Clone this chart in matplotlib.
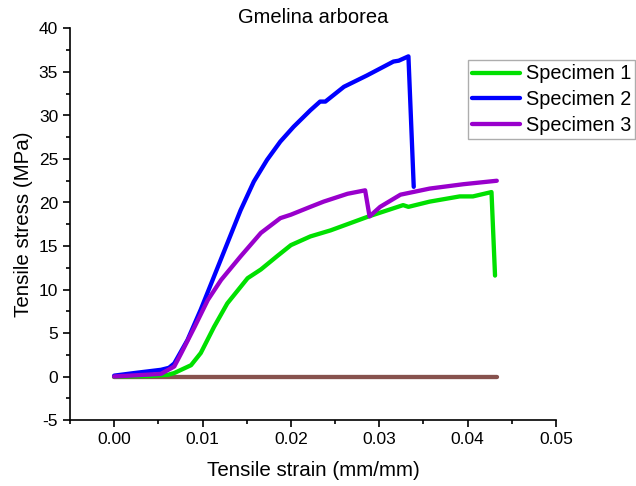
import matplotlib.pyplot as plt
from matplotlib.ticker import MultipleLocator

plt.rcParams['font.family'] = ['Liberation Sans', 'DejaVu Sans']
plt.rcParams['axes.unicode_minus'] = False

# strain (mm/mm) and stress (MPa) for each specimen
strain_1 = [0.0, 0.0040, 0.0061, 0.0068, 0.0087, 0.0098, 0.0113, 0.0128, 0.0151,
            0.0166, 0.0184, 0.0200, 0.0222, 0.0245, 0.0288, 0.0327, 0.0333,
            0.0357, 0.0391, 0.0406, 0.0427, 0.0431]
stress_1 = [0.0, 0.05, 0.2, 0.4, 1.3, 2.7, 5.7, 8.4, 11.3,
            12.3, 13.8, 15.1, 16.1, 16.8, 18.4, 19.7, 19.5,
            20.1, 20.7, 20.7, 21.2, 11.6]

strain_2 = [0.0, 0.0023, 0.0053, 0.0062, 0.0068, 0.0083, 0.0098, 0.0113, 0.0128,
            0.0143, 0.0158, 0.0173, 0.0188, 0.0203, 0.0222, 0.0233, 0.0239,
            0.0260, 0.0286, 0.0316, 0.0322, 0.0333, 0.0339]
stress_2 = [0.1, 0.4, 0.77, 1.0, 1.5, 4.2, 7.7, 11.5, 15.3,
            19.1, 22.4, 24.9, 27.0, 28.7, 30.6, 31.6, 31.6,
            33.3, 34.6, 36.2, 36.3, 36.8, 21.8]

strain_3 = [0.0, 0.0053, 0.0068, 0.0076, 0.0091, 0.0106, 0.0121, 0.0143, 0.0166,
            0.0188, 0.0200, 0.0222, 0.0237, 0.0264, 0.0284, 0.0289, 0.0301,
            0.0324, 0.0357, 0.0395, 0.0433]
stress_3 = [0.0, 0.3, 1.15, 2.7, 5.7, 8.8, 11.1, 13.8, 16.5,
            18.2, 18.6, 19.5, 20.1, 21.0, 21.4, 18.4, 19.5,
            20.9, 21.6, 22.1, 22.5]

baseline_strain = [0.0, 0.0433]
baseline_stress = [0.0, 0.0]

fig = plt.figure(figsize=(6.36, 4.86), dpi=100)
ax = fig.add_axes([70 / 636, 66 / 486, 486 / 636, 391.5 / 486])

lw = 3.1
ax.plot(baseline_strain, baseline_stress, color='#87524e', lw=lw,
        solid_capstyle='round')
l1, = ax.plot(strain_1, stress_1, color='#00e000', lw=lw, solid_capstyle='round')
l2, = ax.plot(strain_2, stress_2, color='#0000ff', lw=lw, solid_capstyle='round')
l3, = ax.plot(strain_3, stress_3, color='#9900cc', lw=lw, solid_capstyle='round')

ax.set_xlim(-0.005, 0.05)
ax.set_ylim(-5, 40)
ax.xaxis.set_major_locator(MultipleLocator(0.01))
ax.xaxis.set_minor_locator(MultipleLocator(0.005))
ax.yaxis.set_major_locator(MultipleLocator(5))
ax.yaxis.set_minor_locator(MultipleLocator(2.5))
ax.xaxis.set_major_formatter(lambda v, p: f'{v:.2f}')
ax.tick_params(which='major', direction='out', length=5, width=1.2, labelsize=12.5)
ax.tick_params(which='minor', direction='out', length=3, width=1.2)

for side in ['top', 'right']:
    ax.spines[side].set_visible(False)
for side in ['left', 'bottom']:
    ax.spines[side].set_linewidth(1.2)

ax.set_xlabel('Tensile strain (mm/mm)', fontsize=14.8, labelpad=10)
ax.set_ylabel('Tensile stress (MPa)', fontsize=14.8, labelpad=4)
ax.set_title('Gmelina arborea', fontsize=14.5, pad=4)

fig.legend([l1, l2, l3], ['Specimen 1', 'Specimen 2', 'Specimen 3'],
           loc='upper left', bbox_to_anchor=(468 / 636, 1 - 60.5 / 486),
           fontsize=14.3, frameon=True, fancybox=False, edgecolor='#999999',
           handlelength=2.4, handletextpad=0.3, borderaxespad=0, borderpad=0.2,
           labelspacing=0.33)

fig.savefig('out.png', dpi=100)
